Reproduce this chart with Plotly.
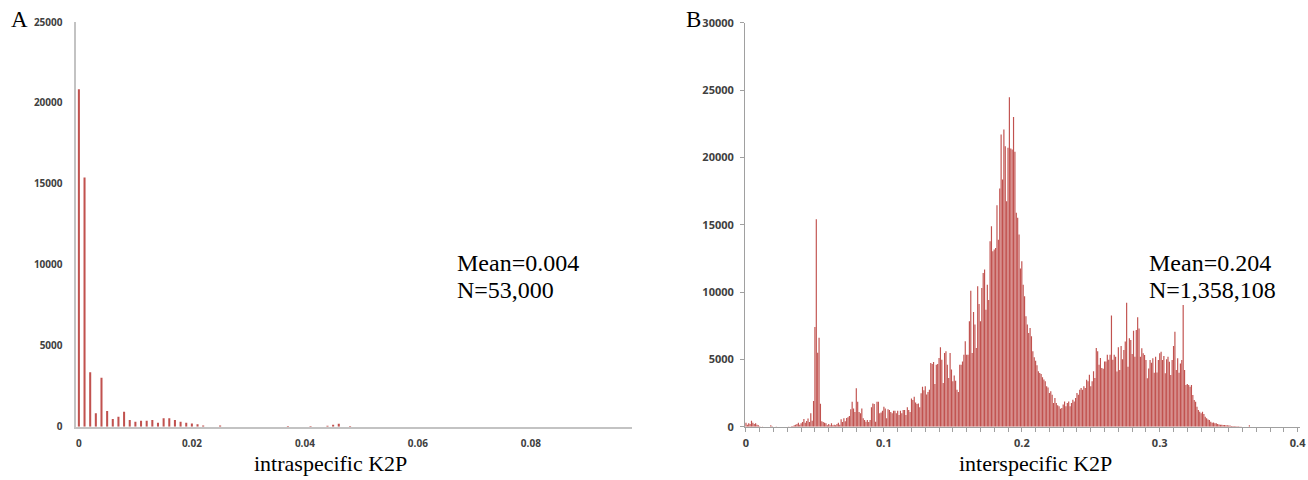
import plotly.graph_objects as go

# ---------------- data ----------------
BIN = 0.001  # K2P bin width

# Panel A: intraspecific K2P histogram (bins 0.000 .. 0.048)
A_counts = [20850, 15400, 3360, 830, 3030, 970, 475, 620, 930, 410,
            310, 370, 370, 410, 250, 520, 520, 410, 310, 250,
            200, 150, 80, 0, 0, 80, 0, 0, 0, 0,
            0, 0, 0, 0, 0, 0, 0, 40, 0, 0,
            0, 40, 0, 0, 60, 120, 180, 0, 50]

# Panel B: interspecific K2P histogram (bins 0.000 .. 0.369)
B_counts = [
    300, 150, 250, 200, 450, 300, 200, 250, 150, 100,
    30, 0, 20, 0, 0, 0, 0, 0, 100, 30,
    0, 0, 20, 0, 0, 0, 0, 0, 0, 0,
    0, 20, 0, 30, 50, 100, 150, 200, 300, 150,
    250, 350, 570, 300, 420, 600, 350, 1000, 450, 1900,
    7400, 15400, 5500, 6600, 1700, 400, 350, 300, 250, 100,
    200, 100, 250, 100, 150, 100, 200, 300, 150, 550,
    350, 620, 400, 650, 700, 800, 1290, 1860, 1350, 1100,
    2850, 1860, 1100, 1000, 1360, 620, 500, 370, 500, 350,
    500, 1440, 1730, 1680, 370, 1860, 1860, 1000, 1050, 1190,
    1490, 1360, 620, 1290, 1240, 1100, 1000, 1190, 1190, 1000,
    1190, 870, 1190, 1000, 1240, 1240, 870, 1440, 1240, 1100,
    2100, 1980, 2230, 1800, 1680, 1730, 1440, 2480, 2970, 2700,
    3000, 2400, 2580, 2750, 4730, 4660, 4800, 3170, 4600, 4650,
    5100, 5900, 4980, 3240, 5470, 5600, 4600, 3620, 5470, 4240,
    3370, 3810, 3420, 2750, 2580, 4600, 4600, 4850, 5350, 6340,
    5350, 5350, 7830, 10100, 5470, 8520, 7580, 5850, 10430, 9110,
    7830, 10300, 11420, 11670, 8690, 10550, 9410, 13770, 14890, 13030,
    13150, 13270, 16450, 13890, 17690, 21700, 18350, 22070, 20830, 16740,
    20710, 24470, 20660, 20580, 22990, 20410, 15880, 15510, 14270, 11740,
    12290, 10550, 9680, 8200, 7580, 6960, 7330, 6710, 5600, 5150,
    4900, 4560, 4110, 3990, 3910, 3670, 3500, 3370, 3000, 2920,
    2500, 2630, 2380, 1760, 2130, 1760, 1590, 1520, 1340, 1390,
    1640, 1880, 1520, 1760, 1880, 1520, 1760, 2000, 1880, 2130,
    2500, 2380, 2750, 2870, 2750, 3000, 2870, 3490, 3370, 3860,
    3000, 3370, 4110, 3620, 5850, 5600, 4600, 5100, 4360, 4310,
    4850, 4850, 5350, 4980, 5350, 8250, 4980, 5350, 5200, 4090,
    5900, 4210, 6000, 5000, 5700, 6320, 9210, 4460, 6560, 6440,
    5400, 7130, 5200, 7180, 8120, 7300, 5200, 5820, 5450, 5330,
    4950, 3590, 4330, 4950, 4750, 5080, 4010, 5200, 4030, 4950,
    5450, 5570, 4950, 5250, 3960, 5000, 5200, 4830, 3840, 4950,
    5990, 7060, 4210, 5080, 4010, 4700, 4950, 9040, 4210, 3100,
    3170, 3100, 2970, 3100, 2350, 1980, 1860, 1490, 1240, 1110,
    990, 1110, 940, 740, 620, 540, 500, 370, 300, 320,
    250, 250, 200, 170, 150, 150, 120, 120, 100, 100,
    80, 80, 60, 60, 50, 40, 30, 30, 20, 20,
    0, 0, 0, 0, 0, 100, 0, 0, 0, 0]

A_x = [i * BIN for i in range(len(A_counts))]
B_x = [i * BIN for i in range(len(B_counts))]

A_xtick_vals = [0, 0.02, 0.04, 0.06, 0.08]
A_xtick_text = ["0", "0.02", "0.04", "0.06", "0.08"]
A_ytick_vals = [0, 5000, 10000, 15000, 20000, 25000]
A_ytick_text = ["0", "5000", "10000", "15000", "20000", "25000"]

B_xtick_vals = [0, 0.1, 0.2, 0.3, 0.4]
B_xtick_text = ["0", "0.1", "0.2", "0.3", "0.4"]
B_xminor_vals = [i * 0.01 for i in range(41)]
B_ytick_vals = [0, 5000, 10000, 15000, 20000, 25000, 30000]
B_ytick_text = ["0", "5000", "10000", "15000", "20000", "25000", "30000"]

A_xlabel = "intraspecific K2P"
B_xlabel = "interspecific K2P"
A_stats = ["Mean=0.004", "N=53,000"]
B_stats = ["Mean=0.204", "N=1,358,108"]

# ---------------- figure ----------------
W, H = 1308, 480
BAR = "rgba(192,80,77,0.99)"
TICKFONT_A = dict(family="Open Sans, Liberation Sans, sans-serif", size=10,
                  color="#404040", weight="bold")
TICKFONT_B = dict(family="Open Sans, Liberation Sans, sans-serif", size=11,
                  color="#404040", weight="bold")
SERIF = "Liberation Serif, Times New Roman, serif"


def px_x(p):
    return p / W


def px_y(p):
    return 1 - p / H


fig = go.Figure()
fig.add_trace(go.Bar(x=A_x, y=A_counts, width=0.00036,
                     marker=dict(color=BAR, line=dict(width=0)),
                     xaxis="x", yaxis="y", hoverinfo="x+y"))
fig.add_trace(go.Bar(x=B_x, y=B_counts, width=0.00085,
                     marker=dict(color=BAR, line=dict(width=0)),
                     xaxis="x2", yaxis="y2", hoverinfo="x+y"))

fig.update_layout(
    width=W, height=H,
    margin=dict(l=0, r=0, t=0, b=0, autoexpand=False),
    paper_bgcolor="white", plot_bgcolor="white",
    showlegend=False,
    bargap=0.2,
    xaxis=dict(domain=[px_x(75.5), px_x(632)], range=[-0.0006, 0.0979],
               anchor="y", showgrid=False, zeroline=False, automargin=False,
               showline=True, linecolor="#C3C3C3", linewidth=2,
               tickmode="array", tickvals=A_xtick_vals, ticktext=A_xtick_text,
               ticks="", tickfont=TICKFONT_A, ticklabelstandoff=6),
    yaxis=dict(domain=[px_y(426.7), px_y(22)], range=[0, 25000],
               anchor="x", showgrid=False, zeroline=False, automargin=False,
               showline=True, linecolor="#C3C3C3", linewidth=2,
               tickmode="array", tickvals=A_ytick_vals, ticktext=A_ytick_text,
               ticks="", tickfont=TICKFONT_A, ticklabelstandoff=9),
    xaxis2=dict(domain=[px_x(745), px_x(1300)], range=[-0.0007, 0.4017],
                anchor="y2", showgrid=False, zeroline=False, automargin=False,
                showline=True, linecolor="#A0A0A0", linewidth=1,
                tickmode="array", tickvals=B_xtick_vals, ticktext=B_xtick_text,
                ticks="outside", ticklen=4, tickcolor="#A0A0A0", tickwidth=1,
                minor=dict(tickmode="array", tickvals=B_xminor_vals,
                           ticks="outside", ticklen=4, tickcolor="#A0A0A0",
                           tickwidth=1, showgrid=False),
                tickfont=TICKFONT_B, ticklabelstandoff=2),
    yaxis2=dict(domain=[px_y(426.7), px_y(22.7)], range=[0, 30000],
                anchor="x2", showgrid=False, zeroline=False, automargin=False,
                showline=True, linecolor="#A0A0A0", linewidth=1,
                tickmode="array", tickvals=B_ytick_vals, ticktext=B_ytick_text,
                ticks="outside", ticklen=4, tickcolor="#A0A0A0", tickwidth=1,
                tickfont=TICKFONT_B, ticklabelstandoff=4),
)

ann = []


def add_text(text, x, y, size, xanchor="left"):
    ann.append(dict(text=text, x=px_x(x), y=px_y(y), xref="paper", yref="paper",
                    xanchor=xanchor, yanchor="middle", showarrow=False,
                    font=dict(family=SERIF, size=size, color="black")))


add_text("A", 19, 20, 23, "center")
add_text("B", 693, 20, 23, "center")
add_text(A_stats[0], 455, 263, 24)
add_text(A_stats[1], 455, 290, 24)
add_text(B_stats[0], 1147, 263, 24)
add_text(B_stats[1], 1147, 290, 24)
add_text(A_xlabel, 330, 463, 22, "center")
add_text(B_xlabel, 1035, 463, 22, "center")
fig.update_layout(annotations=ann)

fig.write_html(
    "out.html",
    config={"displayModeBar": False},
    post_script="document.body.style.margin='0px';"
                "document.body.style.overflow='hidden';",
)
